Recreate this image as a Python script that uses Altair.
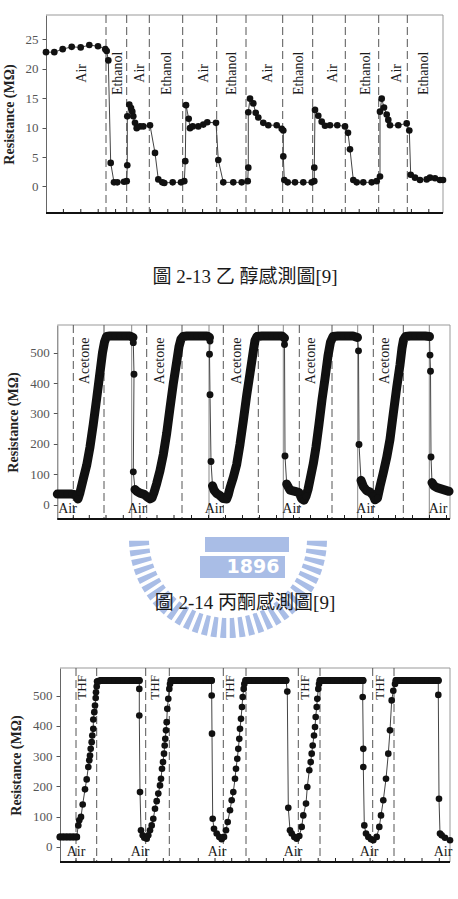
import math
import altair as alt
import pandas as pd

SERIF = "Liberation Serif"
CJK = "Liberation Serif, Noto Sans CJK TC"
WM_COLOR = "#a9bde6"
Y_TITLE = "Resistance (MΩ)"

# ---------------- panel 1 : ethanol ----------------
P1_T = [46, 54.3, 62.7, 71.7, 80.7, 89.3, 98, 105.3, 106.7, 108.3, 110.7, 114, 117.3, 124, 126.7, 127.3, 127.3,
        129.3, 131, 132.3, 133.3, 135, 136.7, 140, 143.3, 150, 155, 158.3, 162.3, 164.3, 172.7, 181, 184.3, 185.3,
        186, 188.7, 190, 192.7, 198.3, 203.3, 207.3, 216, 218.3, 223.3, 233.3, 241.7, 247.7, 248.3, 248.3, 250,
        253.3, 255.7, 258.3, 263.3, 268.3, 276.7, 281.7, 283.3, 283.3, 284.3, 287.7, 295, 303.3, 311.7, 314.3,
        314.3, 315, 318.3, 321.7, 325, 330, 337.3, 345, 348, 350, 353.3, 356.7, 363.3, 371.7, 376.7, 380, 380,
        381.7, 384, 386.7, 388.3, 390, 398.3, 406.7, 409.3, 410.7, 415, 420, 426.7, 430, 435, 440, 443]
P1_R = [22.8, 22.8, 23.3, 23.7, 23.6, 24.0, 23.8, 23.3, 23.0, 21.4, 4.0, 0.7, 0.7, 0.8, 0.9, 3.6, 11.9, 13.9,
        13.3, 12.7, 11.9, 10.8, 9.9, 10.2, 10.2, 10.4, 5.7, 1.2, 0.7, 0.6, 0.7, 0.7, 0.9, 4.3, 13.8, 11.5, 9.9,
        10.2, 10.2, 10.5, 10.9, 10.8, 4.5, 0.7, 0.7, 0.7, 0.9, 3.2, 12.6, 14.9, 14.1, 12.5, 11.7, 10.8, 10.4,
        10.4, 9.8, 9.5, 5.1, 1.1, 0.7, 0.7, 0.7, 0.7, 0.9, 3.2, 13.0, 12.0, 11.0, 10.3, 10.4, 10.4, 10.2, 9.1,
        6.3, 1.1, 0.7, 0.7, 0.7, 0.9, 1.7, 12.7, 14.9, 13.4, 12.2, 11.3, 10.4, 10.4, 10.7, 9.5, 2.0, 1.5, 1.1,
        1.2, 1.5, 1.4, 1.1, 1.1]
P1_SEG = [0] * len(P1_T)
P1_DASH = [106, 126.7, 149.3, 182.7, 216.7, 246, 282.7, 312.7, 345.3, 378.7, 407.3]
P1_LAB_T = [81.7, 118.3, 140, 166.7, 204, 231.7, 268.3, 299, 333.3, 366, 396.7, 424]
P1_LAB = ["Air", "Ethanol", "Air", "Ethanol", "Air", "Ethanol", "Air", "Ethanol", "Air", "Ethanol", "Air", "Ethanol"]
P1_LAB_R = 19.2
P1_TICKS = [63.4, 80.8, 98.2, 115.6, 133, 150.4, 167.8, 185.2, 202.6, 220, 237.4, 254.8, 272.2, 289.6, 307,
            324.4, 341.8, 359.2, 376.6, 394, 411.4, 428.8]
P1_YTICKS = [0, 5, 10, 15, 20, 25]
CAP1 = "圖 2-13 乙 醇感測圖[9]"

# ---------------- panel 2 : acetone ----------------
P2_T = [57.3, 62, 67, 72, 76, 78, 80, 83.3, 86.7, 90, 93.3, 96.7, 100, 102.5, 104.5, 106.5, 110, 115, 120, 125, 130, 133,
        133.3, 134, 133.3,
        135, 137, 140, 144, 147, 150, 152, 154, 156.7, 160, 163.3, 166.7, 170, 173.3, 176.7, 179, 181, 183, 187, 192,
        197, 202, 207, 209.5,
        210, 209.5, 210, 211,
        212.5, 214, 216.7, 220, 223.3, 226.7, 228.3, 230, 233.3, 236.7, 240, 243.3, 246.7, 250, 253.3, 255, 257, 262,
        267, 272, 277, 282, 284.5,
        284.5, 285,
        286.7, 290, 295, 299, 301.7, 304, 306, 308, 310.5, 313.3, 316, 319, 322, 325, 328, 330.5, 333, 338, 343, 348,
        353, 357.5,
        358.5, 359,
        361, 363.3, 366.7, 370, 373.3, 375, 377.5, 380, 383.3, 386.7, 390, 393.3, 396.7, 400, 402, 403.5, 405.5, 410,
        415, 420, 425, 429.5,
        430, 430.5, 431,
        432, 434, 437, 441, 445, 449]
P2_R = [35, 35, 35, 35, 32, 19, 40, 85, 130, 190, 265, 350, 435, 500, 535, 553, 555, 555, 555, 555, 555, 550,
        533, 429, 108,
        50, 44, 38, 34, 26, 19, 22, 40, 70, 112, 165, 235, 318, 398, 470, 520, 545, 553, 555, 555, 555, 555, 555, 550,
        538, 495, 362, 142,
        62, 48, 37, 30, 20, 19, 33, 55, 90, 133, 199, 276, 360, 432, 505, 540, 553, 555, 555, 555, 555, 555, 548,
        527, 160,
        68, 48, 44, 40, 20, 15, 28, 50, 90, 135, 190, 265, 345, 415, 490, 535, 553, 555, 555, 555, 555, 550,
        506, 198,
        80, 60, 46, 42, 30, 16, 22, 60, 105, 155, 215, 300, 385, 460, 515, 542, 553, 555, 555, 555, 555, 553,
        492, 439, 157,
        73, 62, 56, 52, 48, 44]
P2_SEG = ([1] * 22 + [0] * 3 + [2] * 24 + [0] * 4 + [3] * 23 + [0] * 2 + [4] * 22 + [0] * 2 + [5] * 22 + [0] * 3
          + [6] * 6)
P2_DASH = [73.3, 104, 146.7, 182, 223.3, 258.3, 299.3, 332, 373.3, 403.3]
P2_SOLID = [131.7, 209, 283.3, 357.7, 429.3]
P2_LAB_T = [85, 160, 236.7, 310.7, 385]
P2_LAB = ["Acetone"] * 5
P2_LAB_R = 473
P2_AIR_T = [67.5, 137, 214, 291.7, 365.7, 438]
P2_AIR_R = -14
P2_TICKS = [73.3, 89.3, 106, 123.3, 140, 157, 174, 191.5, 208.5, 225.5, 242.5, 259.5, 276.5, 293.5, 310.5, 327.5,
            344.5, 361.5, 378.5, 395.5, 412.5, 429.5, 446.5]
P2_YTICKS = [0, 100, 200, 300, 400, 500]
CAP2 = "圖 2-14 丙酮感測圖[9]"
WM_TEXT = "1896"
WM_STRIPES = 32

# ---------------- panel 3 : THF ----------------
P3_T = [60, 63.3, 66.7, 70, 73.3, 76.7,
        78.3, 79.3, 81, 82.7, 85, 86.7, 88.3, 89.3, 90, 90.7, 91.7, 92.3, 93.3, 93.3, 94.3, 95, 95.7, 96, 96.7,
        97.3, 101, 105.5, 110, 114.5, 119, 123.5, 128, 132.5, 137, 139.3,
        139.3, 139.3, 140, 141, 142.7, 144.3, 146.7, 148.3, 150, 151.7, 153.3, 155, 156.7, 158.3, 160, 161, 162, 163,
        164, 164.7, 165.3, 166, 166.7, 167.3, 168.3, 169.3, 170,
        171, 175.5, 180, 184.5, 189, 193.5, 198, 202.5, 207, 211.5,
        211.7, 212, 212.7, 214, 216.7, 219.3, 221.7, 224, 226, 227.7, 230, 231.7, 233.3, 235, 236, 237.3, 238.3, 239.3,
        240, 241, 242, 242.7, 243.7, 244.3,
        245.7, 250, 254.5, 259, 263.5, 268, 272.5, 277, 281.5, 286,
        287.3, 288.3, 290, 291.7, 294.3, 296.7, 299.3, 301.7, 303.3, 306, 307.3, 309.3, 310.7, 311.7, 312.7, 314, 315,
        315.7, 316.7, 317.3, 318.3, 319,
        320, 324.5, 329, 333.5, 338, 342.5, 347, 351.5, 356, 360.5, 363,
        362.7, 363.3, 363.3, 364.3, 366, 368.3, 371, 373.3, 376.7, 379.3, 381, 383.3, 386, 388.3, 390, 391.7, 393.3, 395,
        396, 400.5, 405, 409.5, 414, 418.5, 423, 427.5, 432, 436.5, 438.3,
        438.3, 439, 440, 441.7, 445, 450]
P3_R = [33] * 6 + \
       [71, 88, 99, 140, 190, 223, 264, 286, 302, 324, 346, 368, 390, 421, 445, 467, 492, 511, 530] + \
       [546] + [550] * 10 + \
       [522, 434, 181, 55, 38, 30, 27, 38, 55, 71, 93, 126, 151, 176, 203, 225, 258, 280, 308, 335, 357, 385, 412, 456,
        489, 522, 538] + \
       [550] * 10 + \
       [500, 374, 93, 60, 44, 33, 25, 33, 55, 82, 121, 154, 181, 225, 258, 291, 324, 357, 390, 423, 462, 495, 522, 538] + \
       [550] * 10 + \
       [513, 129, 55, 44, 33, 27, 36, 66, 104, 143, 198, 253, 280, 308, 335, 368, 396, 429, 462, 489, 522, 538] + \
       [550] * 11 + \
       [495, 324, 264, 71, 44, 33, 25, 22, 33, 66, 104, 154, 225, 308, 385, 484, 516, 538] + \
       [550] * 11 + \
       [502, 159, 44, 38, 30, 22]
P3_SEG = ([1] * 6 + [0] * 19 + [2] * 11 + [0] * 27 + [3] * 10 + [0] * 24 + [4] * 10 + [0] * 22 + [5] * 11
          + [0] * 18 + [6] * 11 + [0] * 6)
P3_DASH = [76, 96.7, 145.7, 169.3, 223.3, 246, 298.3, 320, 372.7, 394]
P3_LAB_T = [81.7, 155, 230, 305, 380]
P3_LAB = ["THF"] * 5
P3_LAB_R = 527
P3_AIR_T = [76, 140, 217, 293, 369, 443]
P3_AIR_R = -16
P3_TICKS = [76, 94, 111.7, 129, 146.7, 163.3, 180, 198.3, 215, 231.7, 249, 266.3, 283.6, 300.9, 318.2, 335.5,
            352.8, 370.1, 387.4, 404.7, 422, 439.3]
P3_YTICKS = [0, 100, 200, 300, 400, 500]

ORIGIN = 46  # common left edge of every panel group on the page


def one():
    return pd.DataFrame({"a": [0]})


def panel(t, r, seg, xdom, ydom, yticks, height, dash, solid, lab_t, lab, lab_r, lab_size,
          air_t, air_r, ticks, caption, cap_xy, bound_y, psize, band, extra=()):
    off = xdom[0] - ORIGIN          # inset of this panel's frame
    width = xdom[1] - ORIGIN
    X = alt.X("t:Q", scale=alt.Scale(domain=xdom, range=[off, width], nice=False, zero=False), axis=None)
    Y = alt.Y("r:Q", scale=alt.Scale(domain=ydom, nice=False, zero=False),
              axis=alt.Axis(values=yticks, title=Y_TITLE, grid=False, offset=-off))
    data = pd.DataFrame({"t": t, "r": r, "seg": seg, "i": list(range(len(t)))})
    layers = [
        # frame: top, right (grey) and bottom (black)
        alt.Chart(one()).mark_rule(color="#999", strokeWidth=1).encode(
            x=alt.value(off), x2=alt.value(width), y=alt.value(0)),
        alt.Chart(one()).mark_rule(color="#999", strokeWidth=1).encode(
            x=alt.value(width), y=alt.value(0), y2=alt.value(height)),
        alt.Chart(pd.DataFrame({"t": dash})).mark_rule(color="#555", strokeDash=[8, 4], strokeWidth=1).encode(x=X),
    ]
    if solid:
        layers.append(alt.Chart(pd.DataFrame({"t": solid})).mark_rule(color="#888", strokeWidth=1).encode(x=X))
    layers.append(alt.Chart(pd.DataFrame({"t": ticks})).mark_rule(color="#222", strokeWidth=1).encode(
        x=X, y=alt.value(height), y2=alt.value(height - 4)))
    layers.append(alt.Chart(one()).mark_rule(color="#111", strokeWidth=2).encode(
        x=alt.value(off), x2=alt.value(width), y=alt.value(height)))
    layers.extend(extra)
    base = alt.Chart(data)
    layers.append(base.mark_line(color="#444", strokeWidth=1).encode(x=X, y=Y, order="i:Q"))
    if band:
        layers.append(base.transform_filter("datum.seg > 0").mark_line(
            color="#111", strokeWidth=band, strokeCap="round", strokeJoin="round").encode(
            x=X, y=Y, detail="seg:N", order="i:Q"))
    layers.append(base.mark_circle(size=psize, color="#111", opacity=1).encode(x=X, y=Y))
    layers.append(alt.Chart(pd.DataFrame({"t": lab_t, "r": [lab_r] * len(lab_t), "lab": lab})).mark_text(
        angle=270, font=SERIF, fontSize=lab_size, color="#1a1a1a", align="center", baseline="middle").encode(
        x=X, y=Y, text="lab:N"))
    if air_t:
        layers.append(alt.Chart(pd.DataFrame({"t": air_t, "r": [air_r] * len(air_t), "lab": ["Air"] * len(air_t)}))
                      .mark_text(font=SERIF, fontSize=14, color="#1a1a1a", align="center", baseline="middle")
                      .encode(x=X, y=Y, text="lab:N"))
    if caption:
        layers.append(alt.Chart(pd.DataFrame({"cap": [caption]})).mark_text(
            font=CJK, fontSize=19, color="#1a1a1a", align="center", baseline="middle").encode(
            x=alt.value(cap_xy[0]), y=alt.value(cap_xy[1]), text="cap:N"))
    # invisible helper that fixes the panel's bounding box (position on page)
    layers.append(alt.Chart(one()).mark_rule(opacity=0).encode(
        x=alt.value(-ORIGIN), y=alt.value(bound_y[0]), y2=alt.value(bound_y[1])))
    return alt.layer(*layers).properties(width=width, height=height)


# watermark (in panel-2 group coordinates)
ring = alt.Chart(pd.DataFrame({"k": list(range(WM_STRIPES)), "one": [1] * WM_STRIPES})).mark_arc(
    innerRadius=79, outerRadius=99, padAngle=0.028, color=WM_COLOR).encode(
    theta=alt.Theta("one:Q", stack=True, scale=alt.Scale(range=[math.pi / 2, 3 * math.pi / 2])),
    order="k:Q", x=alt.value(182), y=alt.value(214))
wm_rect1 = alt.Chart(one()).mark_rect(color=WM_COLOR).encode(
    x=alt.value(159), x2=alt.value(243), y=alt.value(212), y2=alt.value(227))
wm_rect2 = alt.Chart(one()).mark_rect(color=WM_COLOR).encode(
    x=alt.value(154), x2=alt.value(239), y=alt.value(231), y2=alt.value(253))
wm_text = alt.Chart(pd.DataFrame({"w": [WM_TEXT]})).mark_text(
    font="DejaVu Sans", fontWeight="bold", fontSize=19, color="white", align="center", baseline="middle").encode(
    x=alt.value(207), y=alt.value(242), text="w:N")

p1 = panel(P1_T, P1_R, P1_SEG, [46, 443], [-4.5, 29.1], P1_YTICKS, 198, P1_DASH, [],
           P1_LAB_T, P1_LAB, P1_LAB_R, 14, [], 0, P1_TICKS, CAP1, (199, 262), (-15, 309), 44, 0)
p2 = panel(P2_T, P2_R, P2_SEG, [57.3, 450], [-47, 591], P2_YTICKS, 194, P2_DASH, P2_SOLID,
           P2_LAB_T, P2_LAB, P2_LAB_R, 14, P2_AIR_T, P2_AIR_R, P2_TICKS, CAP2, (199, 278), (0, 342),
           48, 9, extra=(ring, wm_rect1, wm_rect2, wm_text))
p3 = panel(P3_T, P3_R, P3_SEG, [60, 450], [-50, 591], P3_YTICKS, 194, P3_DASH, [],
           P3_LAB_T, P3_LAB, P3_LAB_R, 13, P3_AIR_T, P3_AIR_R, P3_TICKS, None, (0, 0), (0, 194), 44, 7)

chart = alt.concat(p1, p2, p3, columns=1, spacing=0).properties(
    padding={"left": 0, "top": 0, "right": 0, "bottom": 0}
).configure_view(stroke=None).configure_axis(
    labelFont=SERIF, labelFontSize=13, labelColor="#555", labelPadding=4,
    titleFont=SERIF, titleFontSize=14, titleFontWeight="bold", titleColor="#222", titlePadding=9,
    tickColor="#555", tickSize=4, domainColor="#666", grid=False,
)

chart.save("out.html", embed_options={"renderer": "svg", "actions": False})
